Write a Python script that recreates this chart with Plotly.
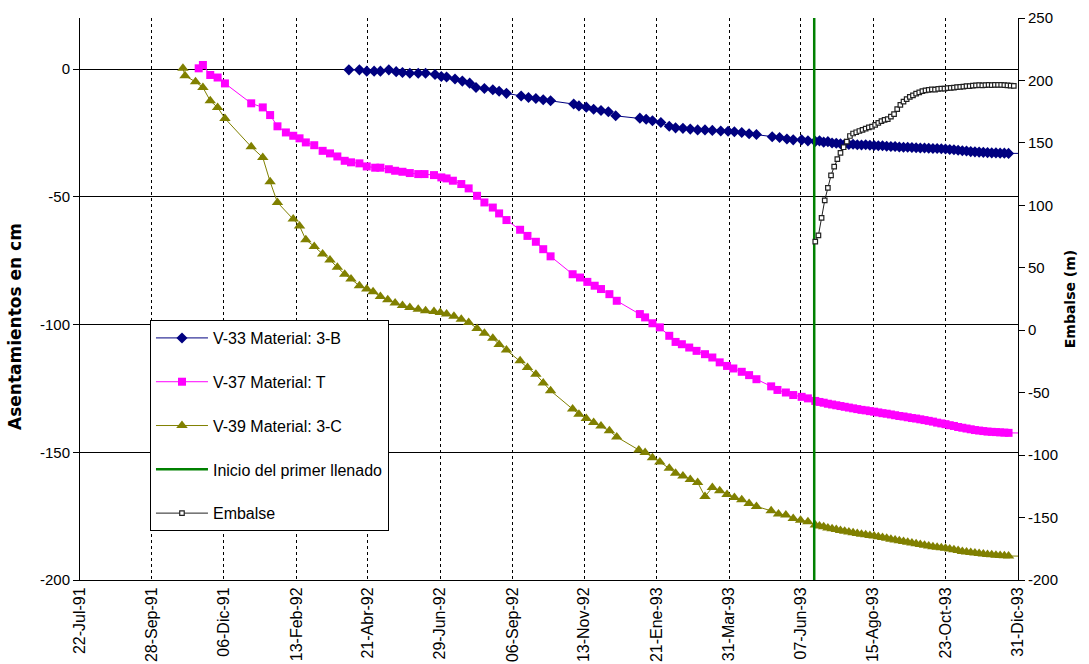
import plotly.graph_objects as go

# ---------------- data ----------------
x_tick_dates = ["1991-07-22", "1991-09-28", "1991-12-06", "1992-02-13", "1992-04-21",
                "1992-06-29", "1992-09-06", "1992-11-13", "1993-01-21", "1993-03-31",
                "1993-06-07", "1993-08-15", "1993-10-23", "1993-12-31"]
x_tick_labels = ["22-Jul-91", "28-Sep-91", "06-Dic-91", "13-Feb-92", "21-Abr-92",
                 "29-Jun-92", "06-Sep-92", "13-Nov-92", "21-Ene-93", "31-Mar-93",
                 "07-Jun-93", "15-Ago-93", "23-Oct-93", "31-Dic-93"]
y1_ticks = [-200, -150, -100, -50, 0]
y1_labels = ["-200", "-150", "-100", "-50", "0"]
y2_ticks = [-200, -150, -100, -50, 0, 50, 100, 150, 200, 250]
y2_labels = ["-200", "-150", "-100", "-50", "0", "50", "100", "150", "200", "250"]

# shared survey dates after start of filling (every ~4 days)
dense_dates = ["1993-06-21", "1993-06-25", "1993-06-29", "1993-07-03", "1993-07-07",
               "1993-07-11", "1993-07-15", "1993-07-19", "1993-07-23", "1993-07-27",
               "1993-07-31", "1993-08-04", "1993-08-08", "1993-08-12", "1993-08-16",
               "1993-08-20", "1993-08-24", "1993-08-28", "1993-09-01", "1993-09-05",
               "1993-09-09", "1993-09-13", "1993-09-17", "1993-09-21", "1993-09-25",
               "1993-09-29", "1993-10-03", "1993-10-07", "1993-10-11", "1993-10-15",
               "1993-10-19", "1993-10-23", "1993-10-27", "1993-10-31", "1993-11-04",
               "1993-11-08", "1993-11-12", "1993-11-16", "1993-11-20", "1993-11-24",
               "1993-11-28", "1993-12-02", "1993-12-06", "1993-12-10", "1993-12-14",
               "1993-12-18", "1993-12-22", "1994-01-10"]

v33_dates = ["1992-04-03", "1992-04-13", "1992-04-20", "1992-04-27", "1992-05-03",
             "1992-05-11", "1992-05-18", "1992-05-24", "1992-05-31", "1992-06-08",
             "1992-06-15", "1992-06-24", "1992-06-30", "1992-07-05", "1992-07-13",
             "1992-07-20", "1992-07-27", "1992-08-02", "1992-08-10", "1992-08-18",
             "1992-08-24", "1992-08-31", "1992-09-14", "1992-09-21", "1992-09-28",
             "1992-10-05", "1992-10-12", "1992-11-03", "1992-11-08", "1992-11-15",
             "1992-11-22", "1992-11-29", "1992-12-06", "1992-12-13", "1993-01-05",
             "1993-01-11", "1993-01-17", "1993-01-25", "1993-02-02", "1993-02-08",
             "1993-02-15", "1993-02-22", "1993-03-01", "1993-03-08", "1993-03-15",
             "1993-03-23", "1993-03-30", "1993-04-05", "1993-04-12", "1993-04-19",
             "1993-04-26", "1993-05-11", "1993-05-18", "1993-05-25", "1993-05-31",
             "1993-06-08", "1993-06-14"]
v33_vals = [-0.3, -0.3, -0.8, -0.8, -0.8, -0.3, -1.0, -1.3, -1.6, -1.6,
            -1.6, -2.1, -2.9, -3.1, -3.9, -4.7, -5.5, -7.2, -7.6, -8.1,
            -8.7, -9.5, -10.5, -11.1, -11.5, -12.0, -12.4, -13.7, -14.4, -14.9,
            -15.7, -16.2, -16.7, -18.3, -19.2, -19.6, -20.2, -20.9, -22.4, -23.0,
            -23.2, -23.5, -23.8, -23.8, -24.0, -24.2, -24.3, -24.5, -24.8, -25.3,
            -25.6, -26.5, -26.8, -27.4, -27.7, -27.7, -28.1]
v33_dense = [-28.3, -28.1, -28.6, -28.4, -28.9, -29.0, -29.2, -29.3, -29.5, -29.4,
             -29.6, -29.7, -29.6, -29.8, -29.9, -30.0, -30.0, -30.2, -30.3, -30.3,
             -30.5, -30.6, -30.6, -30.7, -30.8, -30.9, -30.9, -31.0, -31.1, -31.1,
             -31.2, -31.3, -31.5, -31.6, -31.8, -32.0, -32.1, -32.3, -32.4, -32.5,
             -32.6, -32.7, -32.8, -32.8, -32.9, -32.9, -33.0, -33.0]

v37_dates = ["1991-11-12", "1991-11-16", "1991-11-23", "1991-11-30", "1991-12-07",
             "1992-01-01", "1992-01-12", "1992-01-19", "1992-01-26", "1992-02-03",
             "1992-02-10", "1992-02-16", "1992-02-22", "1992-03-01", "1992-03-09",
             "1992-03-16", "1992-03-23", "1992-03-30", "1992-04-05", "1992-04-13",
             "1992-04-20", "1992-04-28", "1992-05-03", "1992-05-11", "1992-05-17",
             "1992-05-24", "1992-05-31", "1992-06-08", "1992-06-14", "1992-06-23",
             "1992-06-30", "1992-07-05", "1992-07-11", "1992-07-19", "1992-07-26",
             "1992-08-03", "1992-08-10", "1992-08-18", "1992-08-24", "1992-08-31",
             "1992-09-13", "1992-09-20", "1992-09-28", "1992-10-05", "1992-10-12",
             "1992-11-02", "1992-11-09", "1992-11-16", "1992-11-23", "1992-11-29",
             "1992-12-07", "1992-12-14", "1993-01-05", "1993-01-10", "1993-01-17",
             "1993-01-24", "1993-02-02", "1993-02-08", "1993-02-14", "1993-02-21",
             "1993-02-28", "1993-03-08", "1993-03-15", "1993-03-22", "1993-03-29",
             "1993-04-04", "1993-04-12", "1993-04-19", "1993-04-26", "1993-05-10",
             "1993-05-16", "1993-05-24", "1993-05-31", "1993-06-08", "1993-06-14"]
v37_vals = [0.3, 1.6, -2.3, -3.3, -5.6, -13.4, -15.0, -18.0, -22.4, -24.8,
            -26.1, -27.1, -28.7, -29.8, -32.0, -33.0, -34.2, -35.9, -36.5, -36.9,
            -38.1, -38.6, -38.6, -39.2, -39.8, -40.2, -40.7, -41.1, -41.1, -41.5,
            -42.4, -42.8, -43.7, -45.0, -46.7, -49.6, -52.2, -54.2, -56.5, -59.1,
            -62.9, -65.3, -67.6, -70.5, -73.3, -80.3, -81.6, -83.3, -84.8, -86.1,
            -88.1, -90.7, -95.9, -97.2, -99.5, -101.1, -104.4, -106.8, -107.7, -109.0,
            -110.3, -111.6, -112.9, -114.8, -116.2, -117.2, -118.5, -119.8, -121.4, -124.2,
            -125.6, -126.6, -127.6, -128.3, -128.9]
v37_dense = [-129.9, -130.3, -130.6, -131.0, -131.3, -131.6, -131.9, -132.2, -132.5, -132.8,
             -133.1, -133.4, -133.6, -133.9, -134.1, -134.4, -134.7, -134.9, -135.2, -135.5,
             -135.8, -136.0, -136.3, -136.6, -136.8, -137.1, -137.4, -137.7, -138.0, -138.4,
             -138.7, -139.0, -139.4, -139.7, -140.1, -140.4, -140.7, -141.0, -141.3, -141.5,
             -141.7, -141.9, -142.0, -142.1, -142.2, -142.3, -142.4, -142.5]

v39_dates = ["1991-10-28", "1991-10-30", "1991-11-09", "1991-11-16", "1991-11-23",
             "1991-11-30", "1991-12-07", "1992-01-01", "1992-01-12", "1992-01-19",
             "1992-01-26", "1992-02-10", "1992-02-16", "1992-02-22", "1992-03-01",
             "1992-03-09", "1992-03-16", "1992-03-23", "1992-03-30", "1992-04-05",
             "1992-04-13", "1992-04-20", "1992-04-26", "1992-05-03", "1992-05-10",
             "1992-05-17", "1992-05-24", "1992-05-31", "1992-06-08", "1992-06-15",
             "1992-06-23", "1992-06-29", "1992-07-05", "1992-07-12", "1992-07-19",
             "1992-07-26", "1992-08-03", "1992-08-10", "1992-08-18", "1992-08-24",
             "1992-08-31", "1992-09-13", "1992-09-20", "1992-09-28", "1992-10-05",
             "1992-10-12", "1992-11-02", "1992-11-08", "1992-11-15", "1992-11-22",
             "1992-11-29", "1992-12-07", "1992-12-14", "1993-01-04", "1993-01-10",
             "1993-01-17", "1993-01-24", "1993-02-02", "1993-02-08", "1993-02-15",
             "1993-02-22", "1993-03-01", "1993-03-08", "1993-03-15", "1993-03-22",
             "1993-03-29", "1993-04-05", "1993-04-12", "1993-04-19", "1993-04-26",
             "1993-05-10", "1993-05-17", "1993-05-24", "1993-05-31", "1993-06-07",
             "1993-06-14"]
v39_vals = [0.3, -2.6, -5.0, -7.2, -12.4, -15.0, -19.3, -30.4, -34.6, -44.1,
            -52.2, -58.7, -61.4, -66.8, -69.4, -72.4, -74.7, -77.6, -80.3, -82.2,
            -84.8, -86.1, -87.2, -89.0, -90.3, -91.6, -92.5, -93.3, -94.0, -94.6,
            -94.9, -95.3, -95.9, -96.8, -97.9, -99.2, -101.5, -103.4, -105.4, -107.8,
            -110.0, -114.2, -116.8, -119.5, -122.9, -125.9, -133.1, -135.1, -136.8, -138.3,
            -139.7, -141.6, -144.0, -149.1, -150.1, -152.1, -153.8, -156.3, -158.2, -159.3,
            -160.7, -161.8, -167.3, -163.8, -165.1, -166.5, -167.7, -168.6, -170.1, -171.2,
            -172.9, -174.2, -174.6, -175.9, -176.6, -177.2]
v39_dense = [-178.5, -178.9, -179.2, -179.6, -179.9, -180.2, -180.6, -180.9, -181.2, -181.5,
             -181.8, -182.1, -182.3, -182.6, -182.8, -183.1, -183.4, -183.7, -184.0, -184.3,
             -184.6, -184.9, -185.2, -185.5, -185.8, -186.1, -186.4, -186.7, -187.0, -187.2,
             -187.4, -187.6, -187.9, -188.2, -188.5, -188.8, -189.0, -189.2, -189.4, -189.6,
             -189.8, -190.0, -190.1, -190.3, -190.4, -190.5, -190.6, -190.7]

llenado_date = "1993-06-20"

emb_dates = ["1993-06-21", "1993-06-24", "1993-06-27", "1993-06-30",
             "1993-07-03", "1993-07-06", "1993-07-09", "1993-07-12", "1993-07-15",
             "1993-07-18", "1993-07-21", "1993-07-24", "1993-07-27", "1993-07-30",
             "1993-08-02", "1993-08-05", "1993-08-08", "1993-08-11", "1993-08-14",
             "1993-08-17", "1993-08-20", "1993-08-23", "1993-08-26", "1993-08-29",
             "1993-09-01", "1993-09-04", "1993-09-07", "1993-09-10", "1993-09-13",
             "1993-09-16", "1993-09-19", "1993-09-22", "1993-09-25", "1993-09-28",
             "1993-10-01", "1993-10-04", "1993-10-07", "1993-10-10", "1993-10-13",
             "1993-10-16", "1993-10-19", "1993-10-22", "1993-10-25", "1993-10-28",
             "1993-10-31", "1993-11-03", "1993-11-06", "1993-11-09", "1993-11-12",
             "1993-11-15", "1993-11-18", "1993-11-21", "1993-11-24", "1993-11-27",
             "1993-11-30", "1993-12-03", "1993-12-06", "1993-12-09", "1993-12-12",
             "1993-12-15", "1993-12-18", "1993-12-21", "1993-12-24", "1993-12-27"]
emb_vals = [71, 76, 90, 104, 114, 124, 131, 137, 142, 146.5,
            151, 155.5, 157.5, 158.5, 159.5, 160.5, 161.5, 162.5, 163, 164.5,
            166, 167.5, 168.5, 169, 171, 173, 177, 180.5, 183, 185,
            186.8, 188, 189.5, 190.5, 191.5, 192, 192.4, 192.8, 192.6, 193.2,
            193.5, 193.4, 193.8, 194, 194.3, 194.6, 194.8, 195, 195.4, 195.5,
            195.8, 196, 196.2, 196, 196.3, 196.5, 196.3, 196.4, 196.5, 196.4,
            196.2, 196, 195.8, 195.6]

# ---------------- figure ----------------
ARIAL = "Arial, Liberation Sans, sans-serif"
TICK_FONT = dict(family=ARIAL, size=15, color="black")

fig = go.Figure()

fig.add_trace(go.Scatter(
    x=v33_dates + dense_dates, y=v33_vals + v33_dense, name="V-33 Material: 3-B",
    mode="lines+markers", legendgroup="g1",
    line=dict(color="#000080", width=1),
    marker=dict(symbol="diamond", size=8.5, color="#000080")))
fig.add_trace(go.Scatter(
    x=v37_dates + dense_dates, y=v37_vals + v37_dense, name="V-37 Material: T",
    mode="lines+markers", legendgroup="g2",
    line=dict(color="#FF00FF", width=1),
    marker=dict(symbol="square", size=8, color="#FF00FF")))
fig.add_trace(go.Scatter(
    x=v39_dates + dense_dates, y=v39_vals + v39_dense, name="V-39 Material: 3-C",
    mode="lines+markers", legendgroup="g3",
    line=dict(color="#808000", width=1),
    marker=dict(symbol="triangle-up", size=10, color="#808000")))
fig.add_trace(go.Scatter(
    x=[llenado_date, llenado_date], y=[-200, 20], name="Inicio del primer llenado",
    mode="lines", legendgroup="g4",
    line=dict(color="#008000", width=2.5)))
fig.add_trace(go.Scatter(
    x=emb_dates, y=emb_vals, name="Embalse", yaxis="y2",
    mode="lines+markers", legendgroup="g5",
    line=dict(color="#222222", width=1),
    marker=dict(symbol="square", size=4.5, color="white",
                line=dict(color="#222222", width=1.2))))

fig.update_layout(
    width=1089, height=664,
    margin=dict(l=80, r=71, t=18, b=84, pad=0, autoexpand=False),
    paper_bgcolor="white", plot_bgcolor="white",
    showlegend=True,
    legend=dict(x=0.0746, y=0.4626, xanchor="left", yanchor="top",
                bgcolor="white", bordercolor="black", borderwidth=1,
                font=dict(family=ARIAL, size=16, color="black"),
                tracegroupgap=20, itemwidth=52, traceorder="grouped",
                entrywidth=240, entrywidthmode="pixels"),
    xaxis=dict(type="date", range=[x_tick_dates[0], x_tick_dates[-1]],
               tickmode="array", tickvals=x_tick_dates, ticktext=x_tick_labels,
               tickangle=-90, tickfont=dict(family=ARIAL, size=16, color="black"),
               showgrid=True, gridcolor="black", gridwidth=1, griddash="3px,3px",
               showline=True, linecolor="black", linewidth=1, zeroline=False,
               ticks="", automargin=False),
    yaxis=dict(range=[-200, 20], tickmode="array", tickvals=y1_ticks, ticktext=y1_labels,
               tickfont=TICK_FONT, showgrid=True, gridcolor="black", gridwidth=1,
               showline=True, linecolor="black", linewidth=1, zeroline=False,
               ticks="outside", ticklen=6, tickcolor="black", automargin=False),
    yaxis2=dict(range=[-200, 250], tickmode="array", tickvals=y2_ticks, ticktext=y2_labels,
                overlaying="y", side="right", anchor="x",
                tickfont=TICK_FONT, showgrid=False, zeroline=False,
                showline=True, linecolor="black", linewidth=1,
                ticks="outside", ticklen=6, tickcolor="black",
                title=dict(text="Embalse (m)", font=dict(family="DejaVu Sans, sans-serif", size=14,
                                                        color="black", weight="bold"), standoff=8),
                automargin=False),
    yaxis3=dict(range=[-200, 20], tickmode="array", tickvals=y1_ticks,
                overlaying="y", side="left", anchor="x", showticklabels=False,
                ticks="inside", ticklen=6, tickcolor="black", showgrid=False,
                showline=False, zeroline=False, automargin=False),
    yaxis4=dict(range=[-200, 250], tickmode="array", tickvals=y2_ticks,
                overlaying="y", side="right", anchor="x",
                showticklabels=False, ticks="inside", ticklen=6, tickcolor="black",
                showgrid=False, showline=False, zeroline=False, automargin=False),
    annotations=[dict(text="Asentamientos en cm", textangle=-90,
                      xref="paper", yref="paper", x=-0.0693, y=0.452,
                      xanchor="center", yanchor="middle", showarrow=False,
                      font=dict(family="DejaVu Sans, sans-serif", size=17,
                                color="black", weight="bold"))],
)

fig.write_html("out.html", config={"displayModeBar": False},
               post_script="document.body.style.margin='0';document.body.style.overflow='hidden';")
